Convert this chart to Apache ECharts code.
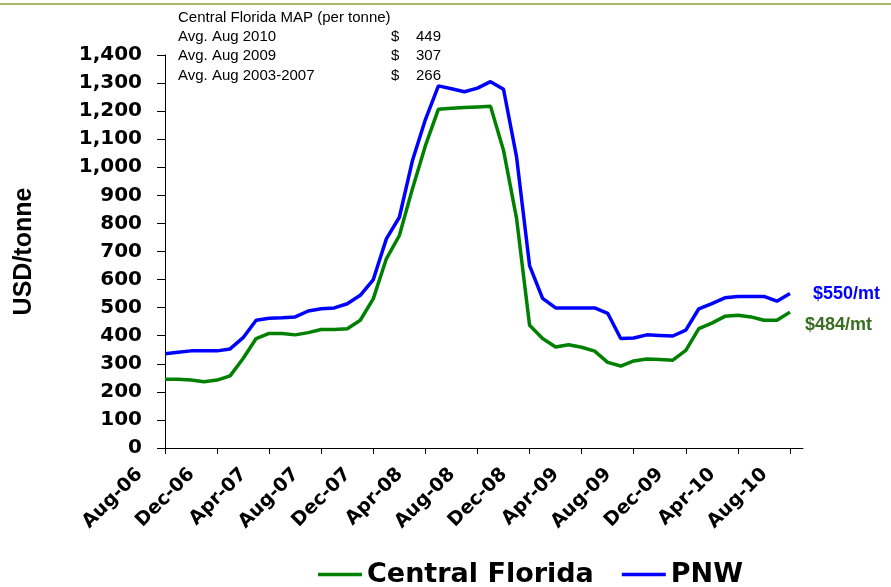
<!DOCTYPE html>
<html>
<head>
<meta charset="utf-8">
<script src="https://cdn.jsdelivr.net/npm/echarts@6/dist/echarts.min.js"></script>
<style>
html,body{margin:0;padding:0;background:#fff;}
#chart{width:891px;height:587px;}
</style>
</head>
<body>
<div id="chart"></div>
<script>
const months = ['Aug-06','Sep-06','Oct-06','Nov-06','Dec-06','Jan-07','Feb-07','Mar-07','Apr-07','May-07','Jun-07','Jul-07','Aug-07','Sep-07','Oct-07','Nov-07','Dec-07','Jan-08','Feb-08','Mar-08','Apr-08','May-08','Jun-08','Jul-08','Aug-08','Sep-08','Oct-08','Nov-08','Dec-08','Jan-09','Feb-09','Mar-09','Apr-09','May-09','Jun-09','Jul-09','Aug-09','Sep-09','Oct-09','Nov-09','Dec-09','Jan-10','Feb-10','Mar-10','Apr-10','May-10','Jun-10','Jul-10','Aug-10','Sep-10'];

const centralFlorida = [245,245,242,236,242,257,319,390,408,408,403,411,422,422,425,455,532,674,757,923,1077,1207,1210,1213,1215,1217,1060,818,437,390,360,368,359,345,305,292,310,317,315,313,348,425,445,469,473,467,455,455,484];

const pnw = [336,341,346,346,346,353,393,455,462,464,467,488,496,499,514,544,600,745,822,1023,1170,1290,1280,1269,1282,1305,1278,1037,650,533,499,499,499,499,480,390,392,403,401,399,420,496,514,535,540,540,540,523,550];

const seriesNames = ['Central Florida','PNW'];
const headerTitle = 'Central Florida MAP (per tonne)';
const avgLabels = ['Avg. Aug 2010','Avg. Aug 2009','Avg. Aug 2003-2007'];
const avgValues = [449, 307, 266];

const chart = echarts.init(document.getElementById('chart'), null, {renderer:'canvas'});

const headerFont = '15px "Liberation Sans", Arial, sans-serif';
const graphics = [
  {type:'line', shape:{x1:0,y1:4,x2:891,y2:4}, style:{stroke:'#aab86a', lineWidth:2}},
  {type:'text', left:178, top:10, style:{text:headerTitle, font:headerFont, fill:'#000'}}
];
avgLabels.forEach((lab,i)=>{
  const y = 29 + i*19.5;
  graphics.push({type:'text', left:178, top:y, style:{text:lab, font:headerFont, fill:'#000'}});
  graphics.push({type:'text', left:391, top:y, style:{text:'$', font:headerFont, fill:'#000'}});
  graphics.push({type:'text', left:416, top:y, style:{text:String(avgValues[i]), font:headerFont, fill:'#000'}});
});

const option = {
  animation:false,
  backgroundColor:'#fff',
  grid:{left:165, right:88, top:55, bottom:139, containLabel:false},
  legend:{
    data:seriesNames,
    left:313, top:556,
    icon:'rect',
    itemWidth:44, itemHeight:3.5, itemGap:28,
    textStyle:{fontFamily:'"DejaVu Sans", sans-serif', fontWeight:'bold', fontSize:27, color:'#000'}
  },
  xAxis:{
    type:'category',
    data:months,
    boundaryGap:false,
    axisLine:{lineStyle:{color:'#000', width:1}},
    axisTick:{show:true, interval:3, length:6, lineStyle:{color:'#000'}},
    axisLabel:{interval:3, rotate:45, margin:-2, padding:[0,36,0,0],
      fontFamily:'"DejaVu Sans", sans-serif', fontWeight:'bold', fontSize:19, color:'#000'},
    splitLine:{show:false}
  },
  yAxis:{
    type:'value',
    min:0, max:1400, interval:100,
    name:'USD/tonne',
    nameLocation:'middle',
    nameGap:128,
    nameRotate:90,
    nameTextStyle:{fontFamily:'"Liberation Sans", Arial, sans-serif', fontWeight:'bold', fontSize:25, color:'#000'},
    axisLine:{show:true, lineStyle:{color:'#000', width:1}},
    axisTick:{show:true, length:8, lineStyle:{color:'#000'}},
    axisLabel:{margin:23, fontFamily:'"DejaVu Sans", sans-serif', fontWeight:'bold', fontSize:20, color:'#000',
      formatter:v=>v.toLocaleString('en-US')},
    splitLine:{show:false}
  },
  series:[
    {name:seriesNames[0], type:'line', data:centralFlorida, symbol:'none', showSymbol:false,
      lineStyle:{color:'#008000', width:3.5}, itemStyle:{color:'#008000'},
      endLabel:{show:true, distance:15, offset:[0,13], formatter:p=>'$'+p.value+'/mt',
        fontFamily:'"Liberation Sans", Arial, sans-serif', fontWeight:'bold', fontSize:18, color:'#3b6e22'}},
    {name:seriesNames[1], type:'line', data:pnw, symbol:'none', showSymbol:false,
      lineStyle:{color:'#0000ff', width:3.5}, itemStyle:{color:'#0000ff'},
      endLabel:{show:true, distance:23, offset:[0,0], formatter:p=>'$'+p.value+'/mt',
        fontFamily:'"Liberation Sans", Arial, sans-serif', fontWeight:'bold', fontSize:18, color:'#0000ff'}}
  ],
  graphic:graphics
};
chart.setOption(option);
</script>
</body>
</html>
